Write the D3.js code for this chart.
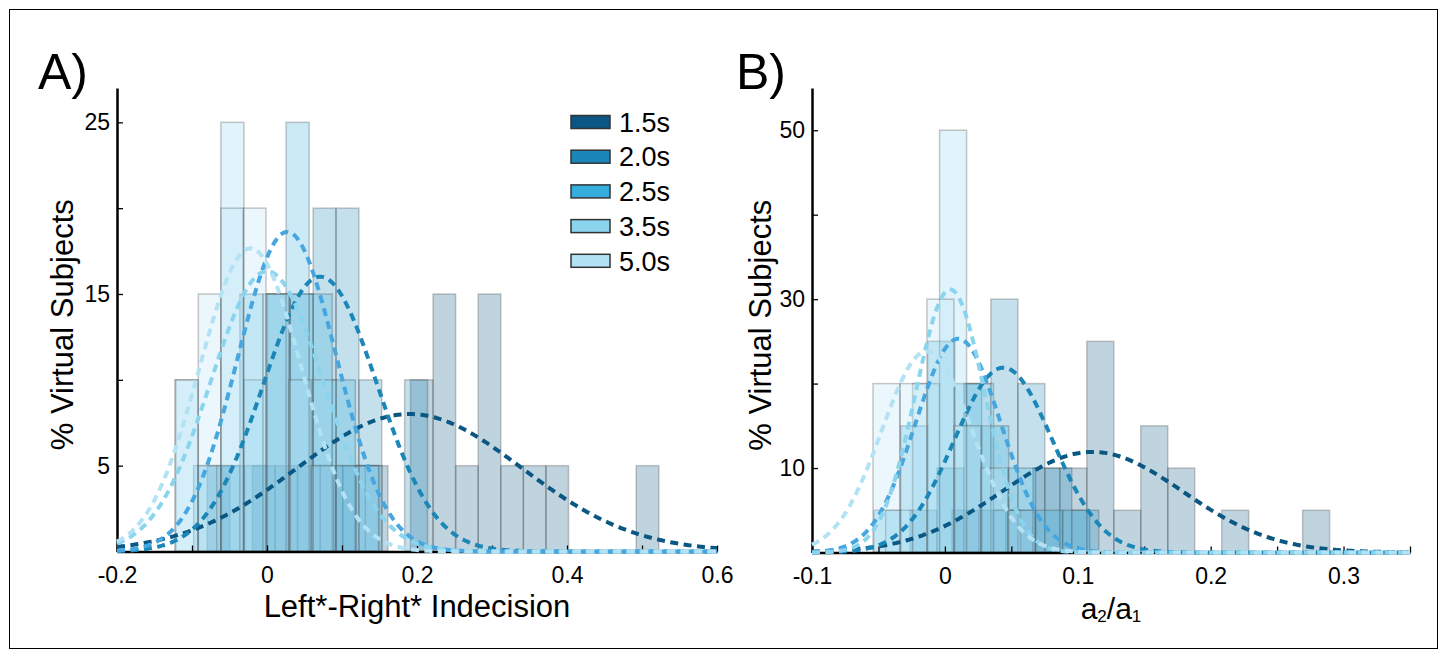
<!DOCTYPE html>
<html>
<head>
<meta charset="utf-8">
<script src="https://cdn.jsdelivr.net/npm/d3@7"></script>
<style>
  body { margin: 0; background: #fff; }
  text { font-family: "Liberation Sans", Arial, sans-serif; fill: #000; }
</style>
</head>
<body>
<svg id="fig" width="1444" height="658"></svg>
<script>
// series (stimulus durations)
const seriesNames = ['1.5s', '2.0s', '2.5s', '3.5s', '5.0s'];
const fillColors = ['#0b5784', '#1b87b9', '#35aedd', '#8ad4ee', '#b3e2f5'];
const lineColors = ['#0b5784', '#1a87b8', '#46a6df', '#8ad4ee', '#b3e2f5'];

// panel A : first bin edge, bin width, % of subjects per bin
const aBinStart = [-0.0796, -0.0605, -0.0978, -0.1229, -0.1217];
const aBinWidth = [0.0301, 0.0305, 0.0308, 0.0307, 0.0301];
const aCounts = [
  [5, 0, 5, 5, 5, 5, 5, 5, 0, 10, 15, 5, 15, 5, 5, 5, 0, 0, 0, 5],
  [5, 5, 15, 15, 20, 20, 10, 0, 10],
  [5, 5, 15, 15, 25, 15, 10, 5],
  [10, 5, 25, 10, 15, 15, 10, 5, 5],
  [10, 15, 20, 20, 15, 10, 5, 0, 5]
];
// normal fits (mean, sd)
const aMu = [0.19, 0.071, 0.027, 0.0, -0.022];
const aSigma = [0.15, 0.076, 0.066, 0.075, 0.068];
const aXTicks = [-0.2, -0.1, 0, 0.1, 0.2, 0.3, 0.4, 0.5, 0.6];
const aXLabels = [-0.2, 0, 0.2, 0.4, 0.6];
const aYTicks = [5, 10, 15, 20, 25];
const aYLabels = [5, 15, 25];

// panel B
const bBinStart = [0.0053, -0.0263, -0.0535, -0.0446, -0.0541];
const bBinWidth = [0.0203, 0.0203, 0.0203, 0.0203, 0.0203];
const bCounts = [
  [5, 5, 5, 10, 10, 25, 5, 15, 10, 0, 5, 0, 0, 5],
  [5, 10, 20, 30, 20, 10, 5],
  [5, 15, 25, 20, 15, 10, 5, 5],
  [5, 20, 50, 20, 5],
  [20, 20, 30, 15, 10, 5]
];
const bMu = [0.111, 0.044, 0.010, 0.004, -0.0135];
const bSigma = [0.068, 0.037, 0.032, 0.026, 0.034];
const bXTicks = [-0.1, -0.05, 0, 0.05, 0.1, 0.15, 0.2, 0.25, 0.3, 0.35];
const bXLabels = [-0.1, 0, 0.1, 0.2, 0.3];
const bYTicks = [10, 20, 30, 40, 50];
const bYLabels = [10, 30, 50];

const svg = d3.select('#fig');

svg.append('rect')
  .attr('x', 9.5).attr('y', 9.5)
  .attr('width', 1428).attr('height', 639)
  .attr('fill', 'none').attr('stroke', '#000').attr('stroke-width', 1);

const fmt = d => String(+d.toFixed(2));
const has = (arr, d) => arr.some(v => Math.abs(v - d) < 1e-9);

function drawPanel(cfg) {
  const x = d3.scaleLinear().domain(cfg.xDomain).range([cfg.left, cfg.right]);
  const y = d3.scaleLinear().domain(cfg.yDomain).range([cfg.bottom, cfg.top]);
  const g = svg.append('g');

  // histograms
  cfg.binStart.forEach((start, s) => {
    const bw = cfg.binWidth[s];
    const bins = cfg.counts[s]
      .map((c, i) => ({ x0: start + i * bw, x1: start + (i + 1) * bw, c }))
      .filter(b => b.c > 0);
    g.append('g').selectAll('rect')
      .data(bins)
      .join('rect')
      .attr('x', d => x(d.x0))
      .attr('width', d => x(d.x1) - x(d.x0))
      .attr('y', d => y(d.c))
      .attr('height', d => y(0) - y(d.c))
      .attr('fill', fillColors[s])
      .attr('fill-opacity', 0.26)
      .attr('stroke', '#4a4a4a')
      .attr('stroke-opacity', 0.3)
      .attr('stroke-width', 1.5);
  });

  // axes, ticks pointing inward
  const xAxis = d3.axisBottom(x)
    .tickValues(cfg.xTicks)
    .tickSizeInner(-6).tickSizeOuter(0).tickPadding(15)
    .tickFormat(d => has(cfg.xLabels, d) ? fmt(d) : '');
  const yAxis = d3.axisLeft(y)
    .tickValues(cfg.yTicks)
    .tickSizeInner(-6).tickSizeOuter(0).tickPadding(7)
    .tickFormat(d => has(cfg.yLabels, d) ? fmt(d) : '');

  const gx = g.append('g').attr('transform', `translate(0,${cfg.bottom})`).call(xAxis);
  const gy = g.append('g').attr('transform', `translate(${cfg.left},0)`).call(yAxis);
  [gx, gy].forEach(a => {
    a.select('.domain').attr('stroke', '#000').attr('stroke-width', 2.5);
    a.selectAll('.tick line').attr('stroke', '#000').attr('stroke-width', 1.3);
    a.selectAll('.tick text')
      .attr('font-family', '"Liberation Sans", Arial, sans-serif')
      .attr('font-size', 23).attr('fill', '#000');
  });

  // fitted normal curves (scaled to the histogram)
  const n = 400;
  const xs = d3.range(n + 1).map(i => cfg.xDomain[0] + i * (cfg.xDomain[1] - cfg.xDomain[0]) / n);
  const line = d3.line().x(d => x(d[0])).y(d => y(d[1]));
  cfg.mu.forEach((mu, s) => {
    const sd = cfg.sigma[s];
    const k = 100 * cfg.binWidth[s] / (sd * Math.sqrt(2 * Math.PI));
    const pts = xs.map(v => [v, k * Math.exp(-0.5 * ((v - mu) / sd) ** 2)]);
    g.append('path')
      .attr('d', line(pts))
      .attr('fill', 'none')
      .attr('stroke', lineColors[s])
      .attr('stroke-width', 4)
      .attr('stroke-dasharray', '8,5.5');
  });

  // titles
  g.append('text')
    .attr('transform', `translate(${cfg.yTitleX},${(cfg.top + cfg.bottom) / 2 + 5}) rotate(-90)`)
    .attr('text-anchor', 'middle')
    .attr('dy', '0.35em')
    .attr('font-size', 31)
    .text('% Virtual Subjects');

  g.append('text')
    .attr('x', cfg.panelX).attr('y', 89)
    .attr('font-size', 50)
    .text(cfg.panel);

  return { g, x, y };
}

const A = drawPanel({
  xDomain: [-0.2, 0.6], yDomain: [0, 27],
  left: 117, right: 717, top: 88, bottom: 551.5,
  binStart: aBinStart, binWidth: aBinWidth, counts: aCounts,
  mu: aMu, sigma: aSigma,
  xTicks: aXTicks, xLabels: aXLabels, yTicks: aYTicks, yLabels: aYLabels,
  yTitleX: 62, panel: 'A)', panelX: 38
});

A.g.append('text')
  .attr('x', (117 + 717) / 2).attr('y', 617)
  .attr('text-anchor', 'middle')
  .attr('font-size', 31)
  .text('Left*-Right* Indecision');

// legend
const legend = A.g.append('g').attr('transform', 'translate(571,122)');
const rows = legend.selectAll('g').data(seriesNames).join('g')
  .attr('transform', (d, i) => `translate(0,${i * 34.7})`);
rows.append('rect')
  .attr('x', 0).attr('y', -6.5).attr('width', 39).attr('height', 13)
  .attr('fill', (d, i) => fillColors[i])
  .attr('stroke', '#333').attr('stroke-width', 1.5);
rows.append('text')
  .attr('x', 48).attr('dy', '0.36em')
  .attr('font-size', 27)
  .text(d => d);

const B = drawPanel({
  xDomain: [-0.1, 0.35], yDomain: [0, 55],
  left: 812, right: 1410, top: 88, bottom: 552.5,
  binStart: bBinStart, binWidth: bBinWidth, counts: bCounts,
  mu: bMu, sigma: bSigma,
  xTicks: bXTicks, xLabels: bXLabels, yTicks: bYTicks, yLabels: bYLabels,
  yTitleX: 760, panel: 'B)', panelX: 736
});

const bt = B.g.append('text')
  .attr('x', (812 + 1410) / 2).attr('y', 619)
  .attr('text-anchor', 'middle')
  .attr('font-size', 30);
bt.append('tspan').text('a');
bt.append('tspan').attr('font-size', 17).attr('dy', 3).text('2');
bt.append('tspan').attr('dy', -3).text('/a');
bt.append('tspan').attr('font-size', 17).attr('dy', 3).text('1');
</script>
</body>
</html>
